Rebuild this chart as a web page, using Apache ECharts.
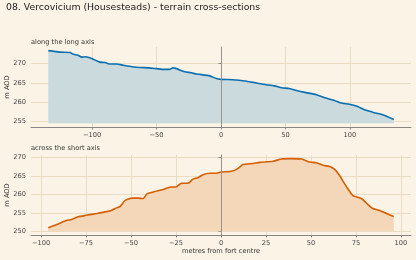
<!DOCTYPE html>
<html><head><meta charset="utf-8">
<script src="https://cdn.jsdelivr.net/npm/echarts@6/dist/echarts.min.js"></script>
<style>html,body{margin:0;padding:0;background:#fbf3e5;}#c{width:416px;height:260px;}</style>
</head><body><div id="c"></div>
<script>
var titleText = '08. Vercovicium (Housesteads) - terrain cross-sections';
var topTitle = 'along the long axis';
var botTitle = 'across the short axis';
var yName = 'm AOD';
var xName = 'metres from fort centre';

var topX = [-134,-125,-117,-115,-111,-108,-105,-100,-94,-90,-86,-81,-76,-69,-63,-56,-50,-44,-40,-37.3,-34.5,-31,-28,-23,-19,-16.5,-8.7,-3.6,0,9,20,25,32.5,41.5,47,53,58.5,65,74,81.5,88,93,99.5,106,112.5,120,126.5,134];
var topY = [273.4,273.0,272.9,272.5,272.2,271.7,271.8,271.3,270.4,270.3,269.9,269.9,269.6,269.2,269.0,268.9,268.7,268.5,268.5,268.9,268.7,268.2,267.9,267.6,267.3,267.2,266.8,266.1,265.9,265.8,265.4,265.1,264.6,264.2,263.7,263.5,263.0,262.5,261.9,261.0,260.4,259.7,259.4,258.8,257.8,257.1,256.5,255.4];

var botX = [-96,-90.5,-86,-83,-79.5,-75,-69,-63.5,-61,-58,-56,-53.5,-51.5,-49,-46,-43.3,-41,-38,-35,-32,-30,-27.5,-25,-22,-18.3,-15.6,-12.8,-10,-6.3,-2.6,0,5.8,9.5,12.2,17.8,21.5,29,33.6,38.2,44.7,49.3,53,56.7,60.4,63.2,66,69.7,73.3,78,80.8,84.1,88.2,92,96];
var botY = [251.1,252.1,253.0,253.3,254.0,254.4,254.9,255.4,255.7,256.4,256.8,258.3,258.8,259.0,259.0,258.9,260.2,260.6,261.0,261.3,261.7,262.0,262.0,263.0,263.0,264.1,264.5,265.3,265.7,265.7,266.0,266.2,267.0,268.0,268.3,268.6,268.9,269.5,269.6,269.5,268.7,268.5,267.8,267.5,266.7,265.0,262.1,259.7,258.9,257.7,256.3,255.7,254.9,254.1];

var topXTicks = [-100,-50,0,50,100];
var topYTicks = [255,260,265,270];
var botXTicks = [-100,-75,-50,-25,0,25,50,75,100];
var botYTicks = [250,255,260,265,270];

function pairs(xs, ys){ return xs.map(function(x,i){return [x, ys[i]];}); }
function minOf(a){ return Math.min.apply(null,a); }
function maxOf(a){ return Math.max.apply(null,a); }
function pad(lo, hi){ var r = hi-lo; return [lo - r*0.05, hi + r*0.05]; }

var topBase = minOf(topY) - 1, botBase = minOf(botY) - 1;
var tXr = pad(minOf(topX), maxOf(topX)), tYr = pad(topBase, maxOf(topY));
var bXr = pad(minOf(botX), maxOf(botX)), bYr = pad(botBase, maxOf(botY));

var FONT = 'DejaVu Sans';
var FS = 6.67;
var lab = {color:'#444', fontSize:FS, fontFamily:FONT};
var gridCol = '#e9dcc5';
var axCol = '#8a8580';
function fmt(v){ return String(v).replace('-', '\u2212'); }

function xAxis(idx, r, ticks, withName){
  var o = {type:'value', gridIndex:idx, min:r[0], max:r[1],
    axisLine:{show:true, lineStyle:{color:axCol, width:1}},
    axisTick:{show:true, length:2.5, lineStyle:{color:axCol}, customValues:ticks},
    axisLabel:Object.assign({margin:5, formatter:fmt, customValues:ticks}, lab),
    splitLine:{show:true, lineStyle:{color:gridCol, width:1}}};
  if (withName){ o.name = xName; o.nameLocation='middle'; o.nameGap=13; o.nameMoveOverlap=false;
    o.nameTextStyle={color:'#333', fontSize:FS, fontFamily:FONT}; }
  return o;
}
function yAxis(idx, r, ticks){
  return {type:'value', gridIndex:idx, min:r[0], max:r[1],
    name:yName, nameLocation:'middle', nameGap:20, nameMoveOverlap:false,
    nameTextStyle:{color:'#333', fontSize:FS, fontFamily:FONT},
    axisLine:{show:true, lineStyle:{color:axCol, width:1}},
    axisTick:{show:true, length:2.5, lineStyle:{color:axCol}, customValues:ticks},
    axisLabel:Object.assign({margin:5, formatter:fmt, customValues:ticks}, lab),
    splitLine:{show:true, lineStyle:{color:gridCol, width:1}}};
}
function zeroLine(){
  return {silent:true, symbol:['none','none'], label:{show:false},
    lineStyle:{color:'#9a948c', width:1, type:'solid'}, data:[{xAxis:0}]};
}

var chart = echarts.init(document.getElementById('c'), null, {renderer:'canvas'});
chart.setOption({
  backgroundColor:'#fbf3e5',
  animation:false,
  title:[
    {text:titleText, left:6, top:3, padding:0, textStyle:{fontFamily:FONT, fontSize:9.33, fontWeight:'normal', color:'#222'}},
    {text:topTitle, left:31, top:38.5, padding:0, textStyle:{fontFamily:FONT, fontSize:FS, fontWeight:'normal', color:'#333'}},
    {text:botTitle, left:31, top:145, padding:0, textStyle:{fontFamily:FONT, fontSize:FS, fontWeight:'normal', color:'#333'}}
  ],
  grid:[
    {left:31, right:5, top:47, height:80, containLabel:false, outerBoundsMode:'none'},
    {left:31, right:5, top:155, height:80, containLabel:false, outerBoundsMode:'none'}
  ],
  xAxis:[xAxis(0, tXr, topXTicks, false), xAxis(1, bXr, botXTicks, true)],
  yAxis:[yAxis(0, tYr, topYTicks), yAxis(1, bYr, botYTicks)],
  series:[
    {type:'line', xAxisIndex:0, yAxisIndex:0, data:pairs(topX, topY), showSymbol:false, smooth:0.2,
     lineStyle:{color:'#0a6fb0', width:1.6}, itemStyle:{color:'#0a6fb0'},
     areaStyle:{color:'#cbdadc', opacity:1, origin:topBase}, markLine:zeroLine(), z:3},
    {type:'line', xAxisIndex:1, yAxisIndex:1, data:pairs(botX, botY), showSymbol:false, smooth:0.2,
     lineStyle:{color:'#d55e00', width:1.6}, itemStyle:{color:'#d55e00'},
     areaStyle:{color:'#f4d6b8', opacity:1, origin:botBase}, markLine:zeroLine(), z:3}
  ]
});
</script></body></html>
